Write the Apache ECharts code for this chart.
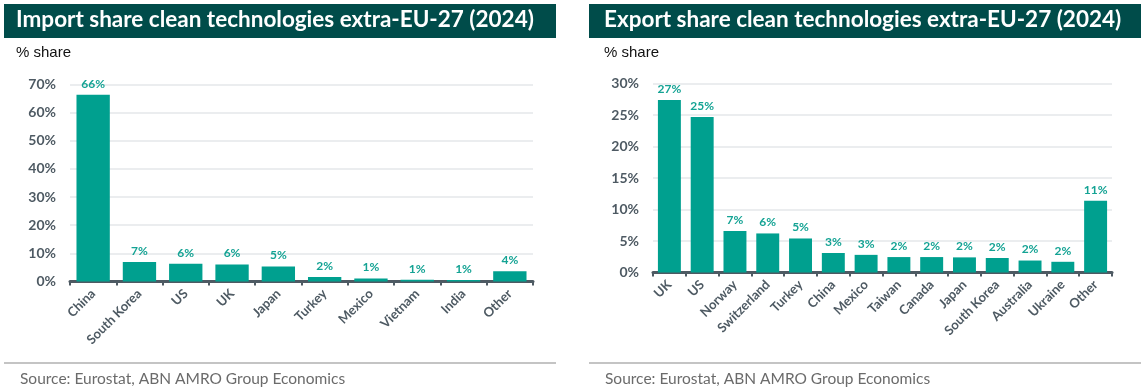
<!DOCTYPE html>
<html><head><meta charset="utf-8">
<script src="https://cdn.jsdelivr.net/npm/echarts@6/dist/echarts.min.js"></script>
<style>html,body{margin:0;padding:0;background:#fff}#c{width:1148px;height:390px}</style>
</head><body><div id="c"></div>
<script>
const importCategories = ['China','South Korea','US','UK','Japan','Turkey','Mexico','Vietnam','India','Other'];
const importValues = [66.4, 6.9, 6.3, 6.0, 5.3, 1.6, 1.1, 0.6, 0.5, 3.6];
const exportCategories = ['UK','US','Norway','Switzerland','Turkey','China','Mexico','Taiwan','Canada','Japan','South Korea','Australia','Ukraine','Other'];
const exportValues = [27.4, 24.7, 6.6, 6.2, 5.4, 3.1, 2.8, 2.45, 2.45, 2.4, 2.3, 1.9, 1.7, 11.4];
const importTitle = 'Import share clean technologies extra-EU-27 (2024)';
const exportTitle = 'Export share clean technologies extra-EU-27 (2024)';
const unitLabel = '% share';
const sourceText = 'Source: Eurostat, ABN AMRO Group Economics';

const dark = '#004c4a', teal = '#00a08f', tealLbl = '#14a394', axisCol = '#4e5a63';
const chart = echarts.init(document.getElementById('c'));

function yAxis(gi, max, interval) {
  return {
    gridIndex: gi, type: 'value', min: 0, max: max, interval: interval,
    axisLabel: { formatter: v => v + '%', color: axisCol, fontFamily: 'Lato', fontWeight: 'bold', fontSize: 14, margin: 14 },
    splitLine: { lineStyle: { color: '#e4e7ea', width: 1.5 } },
    axisLine: { show: false }, axisTick: { show: false }
  };
}
function xAxis(gi, cats) {
  return {
    gridIndex: gi, type: 'category', data: cats,
    axisLine: { lineStyle: { color: axisCol, width: 3 } },
    axisTick: { show: true, length: 4, lineStyle: { color: axisCol, width: 2 } },
    axisLabel: { rotate: 45, interval: 0, color: axisCol, fontFamily: 'Lato', fontWeight: 'bold', fontSize: 13, margin: 10 }
  };
}
function barSeries(i, vals, gap) {
  return {
    type: 'bar', xAxisIndex: i, yAxisIndex: i, data: vals, barCategoryGap: gap,
    itemStyle: { color: teal },
    label: { show: true, position: 'top', distance: 5, formatter: p => Math.round(p.value) + '%', color: tealLbl, fontFamily: 'Lato', fontWeight: 'bold', fontSize: 12 }
  };
}
const tt = (text, left, top, style) => ({ text, left, top, padding: 0, textStyle: style });
const titleStyle = { color: '#fff', fontFamily: 'Lato', fontWeight: 'bold', fontSize: 22.5 };
const unitStyle = { color: '#111', fontFamily: 'Liberation Sans', fontWeight: 'normal', fontSize: 15 };
const srcStyle = { color: '#6b6b6b', fontFamily: 'Lato', fontWeight: 'normal', fontSize: 15.5 };

chart.setOption({
  animation: false,
  title: [
    tt(importTitle, 16, 8, titleStyle),
    tt(exportTitle, 604, 8, titleStyle),
    tt(unitLabel, 16, 45, unitStyle),
    tt(unitLabel, 604, 45, unitStyle),
    tt(sourceText, 20, 371, srcStyle),
    tt(sourceText, 605, 371, srcStyle)
  ],
  graphic: [
    { type: 'rect', z: -1, shape: { x: 4, y: 4, width: 552, height: 34 }, style: { fill: dark } },
    { type: 'rect', z: -1, shape: { x: 589, y: 4, width: 552, height: 34 }, style: { fill: dark } },
    { type: 'rect', shape: { x: 4, y: 362, width: 552, height: 2 }, style: { fill: '#c4c4c4' } },
    { type: 'rect', shape: { x: 589, y: 362, width: 552, height: 2 }, style: { fill: '#c4c4c4' } }
  ],
  grid: [
    { left: 70, right: 615, top: 84.5, bottom: 108.5 },
    { left: 653, right: 36, top: 83.5, bottom: 117.5 }
  ],
  xAxis: [xAxis(0, importCategories), xAxis(1, exportCategories)],
  yAxis: [yAxis(0, 70, 10), yAxis(1, 30, 5)],
  series: [barSeries(0, importValues, '28%'), barSeries(1, exportValues, '30%')]
});
</script></body></html>
